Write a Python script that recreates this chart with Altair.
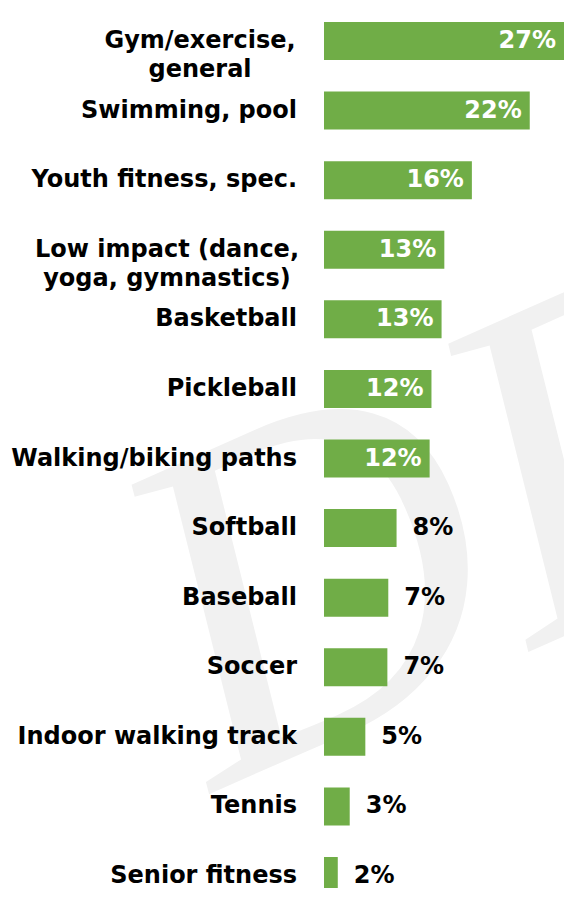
import altair as alt
import pandas as pd

# ---- data ----
CATEGORIES = [
    "Gym/exercise,\ngeneral",
    "Swimming, pool",
    "Youth fitness, spec.",
    "Low impact (dance,\nyoga, gymnastics)",
    "Basketball",
    "Pickleball",
    "Walking/biking paths",
    "Softball",
    "Baseball",
    "Soccer",
    "Indoor walking track",
    "Tennis",
    "Senior fitness",
]
VALUES = [27.3, 22.4, 16.1, 13.1, 12.8, 11.7, 11.5, 7.9, 7.0, 6.9, 4.5, 2.8, 1.5]
VALUE_LABELS = ["27%", "22%", "16%", "13%", "13%", "12%", "12%", "8%", "7%", "7%", "5%", "3%", "2%"]
WATERMARK = "DRAFT"

# ---- style ----
GREEN = "#70AD47"
FONT = "DejaVu Sans"
FS = 24
X_MAX = 27.0
PX_PER_UNIT = 248 / X_MAX
PLOT_W = 240
WRAPPED_CENTER = {  # x centre of the wrapped (two-line) category labels
    "Gym/exercise,\ngeneral": -124,
    "Low impact (dance,\nyoga, gymnastics)": -157,
}

df = pd.DataFrame({"category": CATEGORIES, "value": VALUES, "label": VALUE_LABELS})
df["wrapped"] = df["category"].str.contains("\n")

yscale = alt.Scale(domain=CATEGORIES, range=[0, 901], paddingInner=0.454, paddingOuter=0.201)
Y = alt.Y("category:N", sort=CATEGORIES, scale=yscale,
          axis=alt.Axis(labels=False, ticks=False, title=None, grid=False,
                        domainColor="#d9d9d9", domainWidth=2, offset=1, zindex=1))
Yn = alt.Y("category:N", sort=CATEGORIES, scale=yscale, axis=None)
X_SHOWN = PLOT_W / PX_PER_UNIT
xscale = alt.Scale(domain=[0, X_SHOWN], nice=False, zero=True)

base = alt.Chart(df)

watermark = alt.Chart(alt.Data(values=[{"t": WATERMARK}])).mark_text(
    font="Liberation Serif", fontSize=480, fontStyle="italic", angle=336, align="left",
    baseline="alphabetic", color="#f1f1f1"
).encode(text="t:N", x=alt.value(-110), y=alt.value(784))

bars = base.mark_bar(color=GREEN, clip=True).encode(
    y=Y,
    x=alt.X("value:Q", scale=xscale, axis=None),
)

inside = base.transform_filter("datum.value >= 10").transform_calculate(
    lx=f"min(datum.value, {X_SHOWN})"
).mark_text(
    font=FONT, fontWeight="bold", fontSize=FS, color="white",
    align="right", baseline="middle", dx=-8
).encode(y=Yn, x=alt.X("lx:Q", scale=xscale, axis=None), text="label:N")

outside = base.transform_filter("datum.value < 10").mark_text(
    font=FONT, fontWeight="bold", fontSize=FS, color="black",
    align="left", baseline="middle", dx=16
).encode(y=Yn, x=alt.X("value:Q", scale=xscale, axis=None), text="label:N")

cat_single = base.transform_filter("!datum.wrapped").mark_text(
    font=FONT, fontWeight="bold", fontSize=FS, color="black",
    align="right", baseline="middle"
).encode(y=Yn, x=alt.value(-27), text="category:N")

layers = [watermark, bars, inside, outside, cat_single]
for cat, cx in WRAPPED_CENTER.items():
    layers.append(
        base.transform_filter(alt.FieldEqualPredicate(field="category", equal=cat)).mark_text(
            font=FONT, fontWeight="bold", fontSize=FS, color="black",
            align="center", baseline="middle", lineBreak="\n", lineHeight=29
        ).encode(y=Yn, x=alt.value(cx), text="category:N")
    )

chart = alt.layer(*layers).properties(
    width=PLOT_W, height=880,
    autosize=alt.AutoSizeParams(type="none"),
    padding={"left": 316, "top": 0, "right": 0, "bottom": 0},
    background="white",
).configure_view(stroke=None)

chart.save("out.html", embed_options={"renderer": "svg", "actions": False})
